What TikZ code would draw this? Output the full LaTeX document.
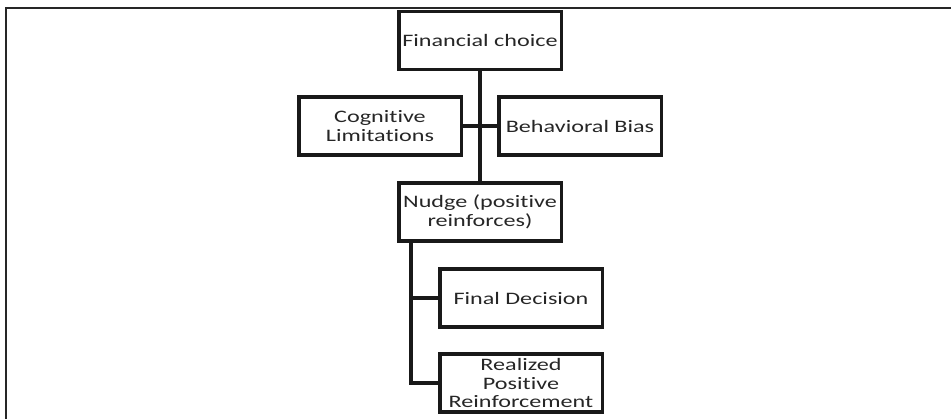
\documentclass[tikz,border=0pt]{standalone}
\usepackage{fontspec}
\newfontfamily\boxfont[FakeStretch=1.38, Ligatures=NoCommon]{Carlito}

\begin{document}
\begin{tikzpicture}[x=1pt, y=-1pt,
  box/.style={draw, line width=3.5pt, black!90, text=black!85,
    minimum width=162.5pt, minimum height=58pt, inner sep=1pt,
    align=center, font={\boxfont\fontsize{17.5}{18.5}\selectfont}},
  link/.style={line width=3.5pt, black!90}]
\useasboundingbox (0,0) rectangle (951,419);
% outer frame
\draw[line width=2pt, black!85] (6,425) -- (6,8) -- (960,8);

% Define nodes
\node[box] (choice) at (480,40.5) {Financial choice};
\node[box] (cogn) at (380,126) {Cognitive\\Limitations};
\node[box] (bias) at (580,126) {Behavioral Bias};
\node[box] (nudge) at (480,212) {Nudge (positive\\reinforces)};
\node[box] (final) at (521,298) {Final Decision};
\node[box] (real) at (521,383) {Realized\\Positive\\Reinforcement};
\coordinate (trunk) at ([xshift=14pt]nudge.south west);

\draw[link] (choice) -- (nudge);
\draw[link] (cogn) -- (bias);
\draw[link]
(trunk) |- (final.west)
(trunk) |- (real.west)
;

\end{tikzpicture}
\end{document}
